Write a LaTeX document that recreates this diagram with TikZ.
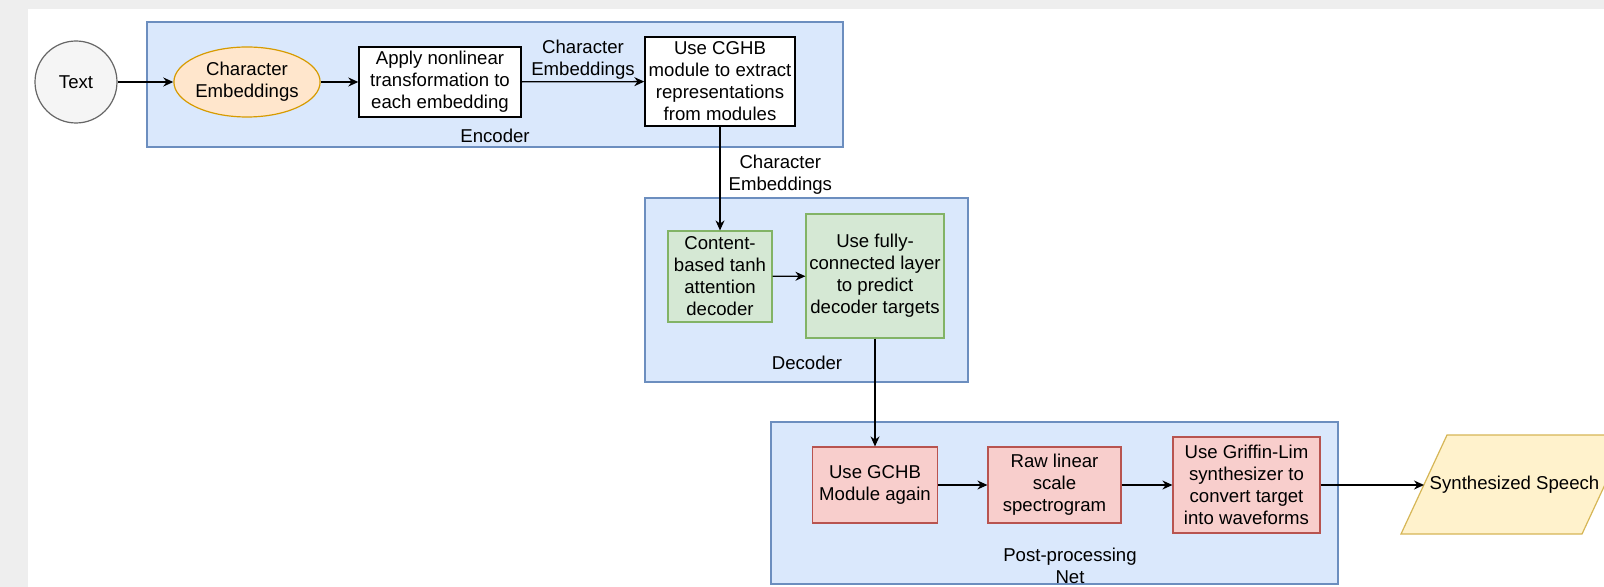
\documentclass[tikz,border=0pt]{standalone}
\usepackage{fontspec}
\setmainfont{Liberation Sans}
\usetikzlibrary{arrows.meta, shapes.geometric}
\definecolor{bgGray}{HTML}{EEEEEE}
\definecolor{grpFill}{HTML}{DAE8FC}
\definecolor{grpLine}{HTML}{6C8EBF}
\definecolor{ovFill}{HTML}{FFE6CC}
\definecolor{ovLine}{HTML}{D79B00}
\definecolor{decFill}{HTML}{D5E8D4}
\definecolor{decLine}{HTML}{82B366}
\definecolor{ppFill}{HTML}{F8CECC}
\definecolor{ppLine}{HTML}{B85450}
\definecolor{outFill}{HTML}{FFF2CC}
\definecolor{outLine}{HTML}{D6B656}
\definecolor{inFill}{HTML}{F5F5F5}
\definecolor{inLine}{HTML}{666666}

\begin{document}
\begin{tikzpicture}[x = 0.5pt, y = -0.5pt,
		font = \fontsize{9.3}{11}\selectfont,
		grp/.style = {fill = grpFill, draw = grpLine, line width = 0.6pt},
		wbox/.style = {draw, fill = white, line width = 0.7pt, align = center, inner sep = 1pt},
		gbox/.style = {draw = decLine, fill = decFill, line width = 0.6pt, align = center, inner sep = 1pt},
		rbox/.style = {draw = ppLine, fill = ppFill, line width = 0.6pt, align = center, inner sep = 1pt},
		arr/.style = {-{Stealth[length = 5pt, width = 4.5pt]}, line width = 0.65pt},
		lbl/.style = {align = center, inner sep = 1pt}]
		%%%%%%%%%%%%%
		\fill [bgGray] (0, 0) rectangle (1604, 587);
		\fill [white] (28, 9) rectangle (1604, 587);
		\useasboundingbox (0, 0) rectangle (1604, 587);
		\draw [grp] (147, 22) rectangle (843, 147);
		\draw [grp] (645, 198) rectangle (968, 382);
		\draw [grp] (771, 422) rectangle (1338, 584);
		\fill [outFill] (1401, 534) -- (1447, 435) -- (1628, 435) -- (1582, 534) -- cycle;
		\draw [outLine, line width = 0.6pt] (1401, 534) -- (1447, 435) -- (1628, 435) -- (1582, 534) -- cycle;
		%%%%%%%%%%%%%
		\node [circle, draw = inLine, fill = inFill, line width = 0.6pt, minimum size = 41pt] (t1) at (76, 82) {Text};
		\node [ellipse, draw = ovLine, fill = ovFill, line width = 0.6pt, align = center, inner sep = 0pt,
			minimum width = 63pt, minimum height = 35pt] (e1) at (247, 82) {Character\\Embeddings};
		\node [wbox, minimum width = 81pt, minimum height = 35pt] (e2) at (440, 82) {Apply nonlinear\\transformation to\\each embedding};
		\node [wbox, minimum width = 75pt, minimum height = 44.5pt] (e3) at (720, 81.5) {Use CGHB\\module to extract\\representations\\from modules};
		\node [lbl] (g1) at (495, 136) {Encoder};
		%%%%%%%%%%%%%
		\node [gbox, minimum width = 52pt, minimum height = 45.5pt] (d1) at (720, 276.5) {Content-\\based tanh\\attention\\decoder};
		\node [gbox, minimum width = 69pt, minimum height = 62pt] (d2) at (875, 276) {Use fully-\\connected layer\\to predict\\decoder targets};
		\node [lbl] (g2) at (807, 363) {Decoder};
		%%%%%%%%%%%%%
		\node [rbox, minimum width = 62.5pt, minimum height = 38pt] (p1) at (875, 485) {Use GCHB\\Module again};
		\node [rbox, minimum width = 66.5pt, minimum height = 38pt] (p2) at (1054.5, 485) {Raw linear\\scale\\spectrogram};
		\node [rbox, minimum width = 73.5pt, minimum height = 48pt] (p3) at (1246.5, 485) {Use Griffin-Lim\\synthesizer to\\convert target\\into waveforms};
		\node [lbl] (g3) at (1070, 566) {Post-processing\\Net};
		\node [lbl] (s1) at (1514.5, 484.5) {Synthesized Speech};
		\coordinate (s0) at (1424, 485);
		%%%%%%%%%%%%%
		\draw [arr] (t1) to (e1);
		\draw [arr] (e1) to (e2);
		\draw [arr] (e2) to node [lbl, above] (c1) {Character\\Embeddings} (e3);
		\draw [arr] (e3) to node [lbl, right = 3pt, pos = 0.46] (c2) {Character\\Embeddings} (d1);
		\draw [arr] (d1) to (d2);
		\draw [arr] (d2) to (p1);
		\draw [arr] (p1) to (p2);
		\draw [arr] (p2) to (p3);
		\draw [arr] (p3) to (s0);
\end{tikzpicture}
\end{document}
